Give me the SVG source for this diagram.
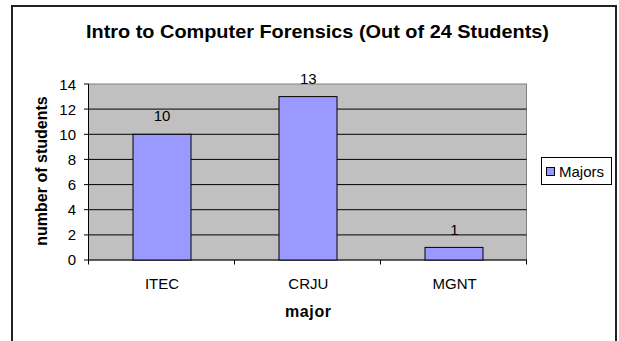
<svg xmlns="http://www.w3.org/2000/svg" width="619" height="341" viewBox="0 0 619 341">
<style>
text{font-family:"Liberation Sans",Arial,sans-serif;fill:#000}
.t{font-size:15px}
.b{font-weight:bold;font-size:16px}
.grid{stroke:#000;stroke-width:1}
.bar{fill:#9999FF;stroke:#000;stroke-width:1}
</style>
<rect x="0" y="0" width="619" height="341" fill="#fff"/>
<rect id="chart-border" x="12" y="6" width="604" height="345" fill="#fff" stroke="#222" stroke-width="2"/>
<text id="title" x="317.5" y="38" text-anchor="middle" font-size="19" font-weight="bold" textLength="463" lengthAdjust="spacingAndGlyphs">Intro to Computer Forensics (Out of 24 Students)</text>
<g id="plot">
<rect x="88.5" y="84" width="438" height="176" fill="#C0C0C0" stroke="#808080"/>
<g class="grid">
<line x1="88.5" y1="109.1" x2="526.5" y2="109.1"/>
<line x1="88.5" y1="134.3" x2="526.5" y2="134.3"/>
<line x1="88.5" y1="159.4" x2="526.5" y2="159.4"/>
<line x1="88.5" y1="184.6" x2="526.5" y2="184.6"/>
<line x1="88.5" y1="209.7" x2="526.5" y2="209.7"/>
<line x1="88.5" y1="234.9" x2="526.5" y2="234.9"/>
</g>
</g>
<g id="axes" stroke="#000" stroke-width="1">
<line x1="88.5" y1="84" x2="88.5" y2="260"/>
<line x1="88" y1="260" x2="527" y2="260"/>
<line x1="84" y1="84" x2="88.5" y2="84"/>
<line x1="84" y1="109.1" x2="88.5" y2="109.1"/>
<line x1="84" y1="134.3" x2="88.5" y2="134.3"/>
<line x1="84" y1="159.4" x2="88.5" y2="159.4"/>
<line x1="84" y1="184.6" x2="88.5" y2="184.6"/>
<line x1="84" y1="209.7" x2="88.5" y2="209.7"/>
<line x1="84" y1="234.9" x2="88.5" y2="234.9"/>
<line x1="84" y1="260" x2="88.5" y2="260"/>
<line x1="88.5" y1="260" x2="88.5" y2="264.5"/>
<line x1="234.5" y1="260" x2="234.5" y2="264.5"/>
<line x1="380.5" y1="260" x2="380.5" y2="264.5"/>
<line x1="526.5" y1="260" x2="526.5" y2="264.5"/>
</g>
<g id="y-labels" class="t" text-anchor="end">
<text class="t" x="76" y="89.5">14</text>
<text class="t" x="76" y="114.5">12</text>
<text class="t" x="76" y="139.5">10</text>
<text class="t" x="76" y="164.5">8</text>
<text class="t" x="76" y="189.5">6</text>
<text class="t" x="76" y="214.5">4</text>
<text class="t" x="76" y="240">2</text>
<text class="t" x="76" y="265">0</text>
</g>
<g id="bar-itec">
<rect class="bar" x="133" y="134.3" width="58" height="125.7"/>
<text class="t" x="162" y="121" text-anchor="middle">10</text>
<text class="t" x="162" y="289" text-anchor="middle">ITEC</text>
</g>
<g id="bar-crju">
<rect class="bar" x="279" y="96.6" width="58" height="163.4"/>
<text class="t" x="308.3" y="84" text-anchor="middle">13</text>
<text class="t" x="308.3" y="289" text-anchor="middle">CRJU</text>
</g>
<g id="bar-mgnt">
<rect class="bar" x="425" y="247.4" width="58" height="12.6"/>
<text class="t" x="454.3" y="234.5" text-anchor="middle">1</text>
<text class="t" x="454.7" y="289" text-anchor="middle">MGNT</text>
</g>
<text id="x-title" class="b" x="308" y="317" text-anchor="middle" textLength="46" lengthAdjust="spacing">major</text>
<text id="y-title" class="b" transform="translate(47,171) rotate(-90)" text-anchor="middle">number of students</text>
<g id="legend">
<rect x="541.5" y="157.5" width="70" height="27" fill="#fff" stroke="#000"/>
<rect x="546.5" y="167.5" width="8" height="8" fill="#9999FF" stroke="#000"/>
<text class="t" x="559" y="177">Majors</text>
</g>
</svg>
